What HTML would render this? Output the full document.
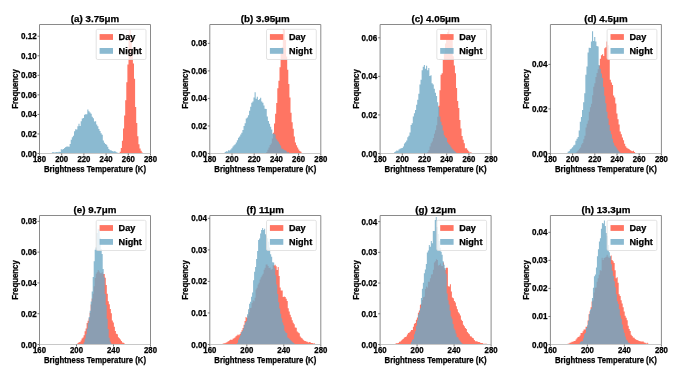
<!DOCTYPE html><html><head><meta charset="utf-8"><style>html,body{margin:0;padding:0;background:#fff;width:685px;height:386px;overflow:hidden}svg{display:block;will-change:transform}</style></head><body><svg width="685" height="386" viewBox="0 0 685 386" font-family="Liberation Sans" font-weight="bold" fill="#000">
<rect width="685" height="386" fill="#fff"/>
<path d="M119.70,153.50 L119.70,151.85 L120.80,151.85 L120.80,148.12 L121.90,148.12 L121.90,140.84 L123.00,140.84 L123.00,128.61 L124.10,128.61 L124.10,115.39 L125.20,115.39 L125.20,100.34 L126.30,100.34 L126.30,82.20 L127.40,82.20 L127.40,64.55 L128.50,64.55 L128.50,34.28 L129.60,34.28 L129.60,30.05 L130.70,30.05 L130.70,35.79 L131.80,35.79 L131.80,48.30 L132.90,48.30 L132.90,63.52 L134.00,63.52 L134.00,78.63 L135.10,78.63 L135.10,107.03 L136.20,107.03 L136.20,122.94 L137.30,122.94 L137.30,136.17 L138.40,136.17 L138.40,144.31 L139.50,144.31 L139.50,148.47 L140.60,148.47 L140.60,150.86 L141.70,150.86 L141.70,152.58 L142.80,152.58 L142.80,153.50 Z" fill="#FF7563"/>
<path d="M51.90,153.50 L51.90,152.30 L53.01,152.30 L53.01,152.15 L54.11,152.15 L54.11,152.39 L55.22,152.39 L55.22,152.15 L56.33,152.15 L56.33,152.11 L57.43,152.11 L57.43,152.32 L58.54,152.32 L58.54,151.75 L59.65,151.75 L59.65,151.99 L60.75,151.99 L60.75,149.13 L61.86,149.13 L61.86,149.49 L62.97,149.49 L62.97,149.12 L64.07,149.12 L64.07,148.01 L65.18,148.01 L65.18,147.12 L66.29,147.12 L66.29,146.58 L67.39,146.58 L67.39,146.62 L68.50,146.62 L68.50,146.83 L69.60,146.83 L69.60,144.04 L70.71,144.04 L70.71,139.66 L71.82,139.66 L71.82,137.27 L72.92,137.27 L72.92,135.68 L74.03,135.68 L74.03,131.22 L75.14,131.22 L75.14,129.26 L76.24,129.26 L76.24,129.43 L77.35,129.43 L77.35,126.22 L78.46,126.22 L78.46,123.64 L79.56,123.64 L79.56,125.99 L80.67,125.99 L80.67,121.30 L81.78,121.30 L81.78,118.62 L82.88,118.62 L82.88,117.92 L83.99,117.92 L83.99,114.87 L85.10,114.87 L85.10,114.27 L86.20,114.27 L86.20,114.35 L87.31,114.35 L87.31,109.39 L88.42,109.39 L88.42,111.17 L89.52,111.17 L89.52,112.60 L90.63,112.60 L90.63,113.87 L91.74,113.87 L91.74,116.67 L92.84,116.67 L92.84,118.35 L93.95,118.35 L93.95,121.51 L95.06,121.51 L95.06,121.16 L96.16,121.16 L96.16,124.39 L97.27,124.39 L97.27,126.14 L98.38,126.14 L98.38,128.99 L99.48,128.99 L99.48,131.11 L100.59,131.11 L100.59,133.25 L101.70,133.25 L101.70,134.72 L102.80,134.72 L102.80,140.39 L103.91,140.39 L103.91,142.64 L105.01,142.64 L105.01,144.06 L106.12,144.06 L106.12,144.78 L107.23,144.78 L107.23,146.68 L108.33,146.68 L108.33,149.06 L109.44,149.06 L109.44,150.33 L110.55,150.33 L110.55,150.21 L111.65,150.21 L111.65,150.95 L112.76,150.95 L112.76,151.42 L113.87,151.42 L113.87,151.16 L114.97,151.16 L114.97,151.56 L116.08,151.56 L116.08,152.28 L117.19,152.28 L117.19,152.75 L118.29,152.75 L118.29,153.22 L119.40,153.22 L119.40,153.50 Z" fill="rgba(110,169,197,0.8)"/>
<rect x="96.20" y="29.30" width="49.8" height="30.2" rx="1.5" fill="rgba(255,255,255,0.8)" stroke="#dcdcdc" stroke-width="0.8"/>
<rect x="99.60" y="34.10" width="13.4" height="5.8" fill="#FF7563"/>
<rect x="99.60" y="48.00" width="13.4" height="5.8" fill="rgba(110,169,197,0.8)"/>
<text x="118.60" y="39.50" font-size="8.6" text-anchor="start" textLength="16.73" lengthAdjust="spacingAndGlyphs" stroke="#000" stroke-width="0.25">Day</text>
<text x="118.60" y="53.60" font-size="8.6" text-anchor="start" textLength="23.30" lengthAdjust="spacingAndGlyphs" stroke="#000" stroke-width="0.25">Night</text>
<path d="M39.5,153.5 L39.5,24.5 L150.5,24.5 L150.5,153.5" fill="none" stroke="#8a8a8a" stroke-width="1"/>
<path d="M39.5,153.5 L150.5,153.5" fill="none" stroke="#c8c8c8" stroke-width="1"/>
<path d="M39.50,153.5 L39.50,155.5" stroke="#555" stroke-width="0.8"/>
<text x="39.50" y="161.80" font-size="8.2" text-anchor="middle" textLength="13.00" lengthAdjust="spacingAndGlyphs" stroke="#000" stroke-width="0.25">180</text>
<path d="M61.70,153.5 L61.70,155.5" stroke="#555" stroke-width="0.8"/>
<text x="61.70" y="161.80" font-size="8.2" text-anchor="middle" textLength="13.00" lengthAdjust="spacingAndGlyphs" stroke="#000" stroke-width="0.25">200</text>
<path d="M83.90,153.5 L83.90,155.5" stroke="#555" stroke-width="0.8"/>
<text x="83.90" y="161.80" font-size="8.2" text-anchor="middle" textLength="13.00" lengthAdjust="spacingAndGlyphs" stroke="#000" stroke-width="0.25">220</text>
<path d="M106.10,153.5 L106.10,155.5" stroke="#555" stroke-width="0.8"/>
<text x="106.10" y="161.80" font-size="8.2" text-anchor="middle" textLength="13.00" lengthAdjust="spacingAndGlyphs" stroke="#000" stroke-width="0.25">240</text>
<path d="M128.30,153.5 L128.30,155.5" stroke="#555" stroke-width="0.8"/>
<text x="128.30" y="161.80" font-size="8.2" text-anchor="middle" textLength="13.00" lengthAdjust="spacingAndGlyphs" stroke="#000" stroke-width="0.25">260</text>
<path d="M150.50,153.5 L150.50,155.5" stroke="#555" stroke-width="0.8"/>
<text x="150.50" y="161.80" font-size="8.2" text-anchor="middle" textLength="13.00" lengthAdjust="spacingAndGlyphs" stroke="#000" stroke-width="0.25">280</text>
<path d="M37.5,153.50 L39.5,153.50" stroke="#555" stroke-width="0.8"/>
<text x="36.70" y="156.50" font-size="8.2" text-anchor="end" textLength="15.70" lengthAdjust="spacingAndGlyphs" stroke="#000" stroke-width="0.25">0.00</text>
<path d="M37.5,133.95 L39.5,133.95" stroke="#555" stroke-width="0.8"/>
<text x="36.70" y="136.95" font-size="8.2" text-anchor="end" textLength="15.70" lengthAdjust="spacingAndGlyphs" stroke="#000" stroke-width="0.25">0.02</text>
<path d="M37.5,114.41 L39.5,114.41" stroke="#555" stroke-width="0.8"/>
<text x="36.70" y="117.41" font-size="8.2" text-anchor="end" textLength="15.70" lengthAdjust="spacingAndGlyphs" stroke="#000" stroke-width="0.25">0.04</text>
<path d="M37.5,94.86 L39.5,94.86" stroke="#555" stroke-width="0.8"/>
<text x="36.70" y="97.86" font-size="8.2" text-anchor="end" textLength="15.70" lengthAdjust="spacingAndGlyphs" stroke="#000" stroke-width="0.25">0.06</text>
<path d="M37.5,75.32 L39.5,75.32" stroke="#555" stroke-width="0.8"/>
<text x="36.70" y="78.32" font-size="8.2" text-anchor="end" textLength="15.70" lengthAdjust="spacingAndGlyphs" stroke="#000" stroke-width="0.25">0.08</text>
<path d="M37.5,55.77 L39.5,55.77" stroke="#555" stroke-width="0.8"/>
<text x="36.70" y="58.77" font-size="8.2" text-anchor="end" textLength="15.70" lengthAdjust="spacingAndGlyphs" stroke="#000" stroke-width="0.25">0.10</text>
<path d="M37.5,36.23 L39.5,36.23" stroke="#555" stroke-width="0.8"/>
<text x="36.70" y="39.23" font-size="8.2" text-anchor="end" textLength="15.70" lengthAdjust="spacingAndGlyphs" stroke="#000" stroke-width="0.25">0.12</text>
<text x="95.00" y="171.60" font-size="8.4" text-anchor="middle" textLength="102.00" lengthAdjust="spacingAndGlyphs" stroke="#000" stroke-width="0.25">Brightness Temperature (K)</text>
<text x="0.00" y="0.00" font-size="8.4" text-anchor="middle" textLength="39.50" lengthAdjust="spacingAndGlyphs" stroke="#000" stroke-width="0.25" transform="translate(18.10,89.00) rotate(-90)">Frequency</text>
<text x="95.00" y="21.50" font-size="9.2" text-anchor="middle" textLength="48.40" lengthAdjust="spacingAndGlyphs" stroke="#000" stroke-width="0.25">(a) 3.75μm</text>
<path d="M266.30,153.50 L266.30,152.01 L267.40,152.01 L267.40,149.84 L268.50,149.84 L268.50,147.53 L269.60,147.53 L269.60,145.08 L270.70,145.08 L270.70,143.46 L271.80,143.46 L271.80,138.49 L272.90,138.49 L272.90,132.83 L274.00,132.83 L274.00,123.48 L275.10,123.48 L275.10,113.85 L276.20,113.85 L276.20,103.11 L277.30,103.11 L277.30,88.18 L278.40,88.18 L278.40,80.78 L279.50,80.78 L279.50,67.13 L280.60,67.13 L280.60,53.70 L281.70,53.70 L281.70,46.89 L282.80,46.89 L282.80,29.04 L283.90,29.04 L283.90,29.78 L285.00,29.78 L285.00,40.00 L286.10,40.00 L286.10,56.40 L287.20,56.40 L287.20,69.71 L288.30,69.71 L288.30,83.99 L289.40,83.99 L289.40,97.54 L290.50,97.54 L290.50,112.72 L291.60,112.72 L291.60,122.34 L292.70,122.34 L292.70,128.79 L293.80,128.79 L293.80,136.38 L294.90,136.38 L294.90,142.46 L296.00,142.46 L296.00,145.16 L297.10,145.16 L297.10,147.52 L298.20,147.52 L298.20,149.56 L299.30,149.56 L299.30,151.05 L300.40,151.05 L300.40,151.79 L301.50,151.79 L301.50,152.94 L302.60,152.94 L302.60,153.50 Z" fill="#FF7563"/>
<path d="M224.70,153.50 L224.70,151.99 L225.81,151.99 L225.81,151.15 L226.91,151.15 L226.91,151.49 L228.02,151.49 L228.02,150.30 L229.13,150.30 L229.13,150.46 L230.23,150.46 L230.23,149.57 L231.34,149.57 L231.34,148.22 L232.45,148.22 L232.45,146.59 L233.55,146.59 L233.55,145.34 L234.66,145.34 L234.66,144.26 L235.77,144.26 L235.77,142.46 L236.87,142.46 L236.87,140.23 L237.98,140.23 L237.98,137.68 L239.09,137.68 L239.09,136.52 L240.19,136.52 L240.19,134.53 L241.30,134.53 L241.30,132.65 L242.41,132.65 L242.41,129.91 L243.52,129.91 L243.52,125.93 L244.62,125.93 L244.62,123.15 L245.73,123.15 L245.73,118.53 L246.84,118.53 L246.84,117.60 L247.94,117.60 L247.94,115.23 L249.05,115.23 L249.05,110.70 L250.16,110.70 L250.16,106.79 L251.26,106.79 L251.26,102.63 L252.37,102.63 L252.37,101.55 L253.48,101.55 L253.48,97.46 L254.58,97.46 L254.58,92.29 L255.69,92.29 L255.69,98.82 L256.80,98.82 L256.80,96.66 L257.90,96.66 L257.90,99.88 L259.01,99.88 L259.01,99.18 L260.12,99.18 L260.12,97.63 L261.22,97.63 L261.22,101.45 L262.33,101.45 L262.33,102.64 L263.44,102.64 L263.44,105.39 L264.54,105.39 L264.54,108.70 L265.65,108.70 L265.65,108.94 L266.76,108.94 L266.76,116.40 L267.86,116.40 L267.86,120.94 L268.97,120.94 L268.97,123.87 L270.08,123.87 L270.08,126.81 L271.18,126.81 L271.18,129.41 L272.29,129.41 L272.29,133.82 L273.40,133.82 L273.40,133.53 L274.51,133.53 L274.51,134.44 L275.61,134.44 L275.61,138.81 L276.72,138.81 L276.72,140.48 L277.83,140.48 L277.83,141.76 L278.93,141.76 L278.93,143.85 L280.04,143.85 L280.04,145.53 L281.15,145.53 L281.15,148.40 L282.25,148.40 L282.25,148.81 L283.36,148.81 L283.36,149.86 L284.47,149.86 L284.47,150.35 L285.57,150.35 L285.57,150.80 L286.68,150.80 L286.68,152.42 L287.79,152.42 L287.79,152.10 L288.89,152.10 L288.89,153.29 L290.00,153.29 L290.00,153.50 Z" fill="rgba(110,169,197,0.8)"/>
<rect x="266.50" y="29.30" width="49.8" height="30.2" rx="1.5" fill="rgba(255,255,255,0.8)" stroke="#dcdcdc" stroke-width="0.8"/>
<rect x="269.90" y="34.10" width="13.4" height="5.8" fill="#FF7563"/>
<rect x="269.90" y="48.00" width="13.4" height="5.8" fill="rgba(110,169,197,0.8)"/>
<text x="288.90" y="39.50" font-size="8.6" text-anchor="start" textLength="16.73" lengthAdjust="spacingAndGlyphs" stroke="#000" stroke-width="0.25">Day</text>
<text x="288.90" y="53.60" font-size="8.6" text-anchor="start" textLength="23.30" lengthAdjust="spacingAndGlyphs" stroke="#000" stroke-width="0.25">Night</text>
<path d="M209.8,153.5 L209.8,24.5 L320.8,24.5 L320.8,153.5" fill="none" stroke="#8a8a8a" stroke-width="1"/>
<path d="M209.8,153.5 L320.8,153.5" fill="none" stroke="#c8c8c8" stroke-width="1"/>
<path d="M209.80,153.5 L209.80,155.5" stroke="#555" stroke-width="0.8"/>
<text x="209.80" y="161.80" font-size="8.2" text-anchor="middle" textLength="13.00" lengthAdjust="spacingAndGlyphs" stroke="#000" stroke-width="0.25">180</text>
<path d="M232.00,153.5 L232.00,155.5" stroke="#555" stroke-width="0.8"/>
<text x="232.00" y="161.80" font-size="8.2" text-anchor="middle" textLength="13.00" lengthAdjust="spacingAndGlyphs" stroke="#000" stroke-width="0.25">200</text>
<path d="M254.20,153.5 L254.20,155.5" stroke="#555" stroke-width="0.8"/>
<text x="254.20" y="161.80" font-size="8.2" text-anchor="middle" textLength="13.00" lengthAdjust="spacingAndGlyphs" stroke="#000" stroke-width="0.25">220</text>
<path d="M276.40,153.5 L276.40,155.5" stroke="#555" stroke-width="0.8"/>
<text x="276.40" y="161.80" font-size="8.2" text-anchor="middle" textLength="13.00" lengthAdjust="spacingAndGlyphs" stroke="#000" stroke-width="0.25">240</text>
<path d="M298.60,153.5 L298.60,155.5" stroke="#555" stroke-width="0.8"/>
<text x="298.60" y="161.80" font-size="8.2" text-anchor="middle" textLength="13.00" lengthAdjust="spacingAndGlyphs" stroke="#000" stroke-width="0.25">260</text>
<path d="M320.80,153.5 L320.80,155.5" stroke="#555" stroke-width="0.8"/>
<text x="320.80" y="161.80" font-size="8.2" text-anchor="middle" textLength="13.00" lengthAdjust="spacingAndGlyphs" stroke="#000" stroke-width="0.25">280</text>
<path d="M207.8,153.50 L209.8,153.50" stroke="#555" stroke-width="0.8"/>
<text x="207.00" y="156.50" font-size="8.2" text-anchor="end" textLength="15.70" lengthAdjust="spacingAndGlyphs" stroke="#000" stroke-width="0.25">0.00</text>
<path d="M207.8,125.97 L209.8,125.97" stroke="#555" stroke-width="0.8"/>
<text x="207.00" y="128.97" font-size="8.2" text-anchor="end" textLength="15.70" lengthAdjust="spacingAndGlyphs" stroke="#000" stroke-width="0.25">0.02</text>
<path d="M207.8,98.43 L209.8,98.43" stroke="#555" stroke-width="0.8"/>
<text x="207.00" y="101.43" font-size="8.2" text-anchor="end" textLength="15.70" lengthAdjust="spacingAndGlyphs" stroke="#000" stroke-width="0.25">0.04</text>
<path d="M207.8,70.90 L209.8,70.90" stroke="#555" stroke-width="0.8"/>
<text x="207.00" y="73.90" font-size="8.2" text-anchor="end" textLength="15.70" lengthAdjust="spacingAndGlyphs" stroke="#000" stroke-width="0.25">0.06</text>
<path d="M207.8,43.36 L209.8,43.36" stroke="#555" stroke-width="0.8"/>
<text x="207.00" y="46.36" font-size="8.2" text-anchor="end" textLength="15.70" lengthAdjust="spacingAndGlyphs" stroke="#000" stroke-width="0.25">0.08</text>
<text x="265.30" y="171.60" font-size="8.4" text-anchor="middle" textLength="102.00" lengthAdjust="spacingAndGlyphs" stroke="#000" stroke-width="0.25">Brightness Temperature (K)</text>
<text x="0.00" y="0.00" font-size="8.4" text-anchor="middle" textLength="39.50" lengthAdjust="spacingAndGlyphs" stroke="#000" stroke-width="0.25" transform="translate(188.40,89.00) rotate(-90)">Frequency</text>
<text x="265.30" y="21.50" font-size="9.2" text-anchor="middle" textLength="48.94" lengthAdjust="spacingAndGlyphs" stroke="#000" stroke-width="0.25">(b) 3.95μm</text>
<path d="M427.30,153.50 L427.30,151.95 L428.40,151.95 L428.40,149.94 L429.51,149.94 L429.51,146.46 L430.61,146.46 L430.61,143.19 L431.72,143.19 L431.72,141.42 L432.82,141.42 L432.82,137.89 L433.93,137.89 L433.93,133.66 L435.03,133.66 L435.03,130.27 L436.14,130.27 L436.14,125.21 L437.24,125.21 L437.24,116.66 L438.35,116.66 L438.35,105.69 L439.45,105.69 L439.45,90.29 L440.56,90.29 L440.56,74.69 L441.66,74.69 L441.66,73.21 L442.77,73.21 L442.77,60.09 L443.87,60.09 L443.87,53.19 L444.98,53.19 L444.98,43.50 L446.08,43.50 L446.08,35.70 L447.19,35.70 L447.19,31.89 L448.29,31.89 L448.29,29.39 L449.40,29.39 L449.40,34.18 L450.50,34.18 L450.50,34.14 L451.61,34.14 L451.61,36.37 L452.71,36.37 L452.71,56.19 L453.82,56.19 L453.82,65.52 L454.92,65.52 L454.92,73.36 L456.03,73.36 L456.03,87.92 L457.13,87.92 L457.13,101.05 L458.24,101.05 L458.24,107.97 L459.34,107.97 L459.34,119.93 L460.45,119.93 L460.45,128.56 L461.55,128.56 L461.55,136.08 L462.66,136.08 L462.66,139.77 L463.76,139.77 L463.76,143.20 L464.87,143.20 L464.87,148.16 L465.97,148.16 L465.97,148.25 L467.08,148.25 L467.08,149.75 L468.18,149.75 L468.18,151.36 L469.29,151.36 L469.29,152.52 L470.39,152.52 L470.39,152.36 L471.50,152.36 L471.50,153.22 L472.60,153.22 L472.60,153.50 Z" fill="#FF7563"/>
<path d="M392.90,153.50 L392.90,153.18 L394.01,153.18 L394.01,152.23 L395.11,152.23 L395.11,151.51 L396.22,151.51 L396.22,150.52 L397.32,150.52 L397.32,150.73 L398.43,150.73 L398.43,149.41 L399.53,149.41 L399.53,148.73 L400.64,148.73 L400.64,148.20 L401.74,148.20 L401.74,147.93 L402.85,147.93 L402.85,146.41 L403.95,146.41 L403.95,143.54 L405.06,143.54 L405.06,142.27 L406.16,142.27 L406.16,140.44 L407.27,140.44 L407.27,137.24 L408.37,137.24 L408.37,135.81 L409.48,135.81 L409.48,132.51 L410.58,132.51 L410.58,124.92 L411.69,124.92 L411.69,123.29 L412.79,123.29 L412.79,116.61 L413.90,116.61 L413.90,113.33 L415.00,113.33 L415.00,109.94 L416.11,109.94 L416.11,104.86 L417.21,104.86 L417.21,99.77 L418.32,99.77 L418.32,93.75 L419.42,93.75 L419.42,84.56 L420.53,84.56 L420.53,79.76 L421.63,79.76 L421.63,70.23 L422.74,70.23 L422.74,66.65 L423.84,66.65 L423.84,65.08 L424.95,65.08 L424.95,68.75 L426.05,68.75 L426.05,65.87 L427.16,65.87 L427.16,70.35 L428.26,70.35 L428.26,68.00 L429.37,68.00 L429.37,75.97 L430.47,75.97 L430.47,75.19 L431.58,75.19 L431.58,83.29 L432.68,83.29 L432.68,84.53 L433.79,84.53 L433.79,88.87 L434.89,88.87 L434.89,92.86 L436.00,92.86 L436.00,95.94 L437.10,95.94 L437.10,102.30 L438.21,102.30 L438.21,107.05 L439.31,107.05 L439.31,116.42 L440.42,116.42 L440.42,121.86 L441.52,121.86 L441.52,125.34 L442.63,125.34 L442.63,130.48 L443.73,130.48 L443.73,135.26 L444.84,135.26 L444.84,137.14 L445.94,137.14 L445.94,138.07 L447.05,138.07 L447.05,142.28 L448.15,142.28 L448.15,143.75 L449.26,143.75 L449.26,145.05 L450.36,145.05 L450.36,146.63 L451.47,146.63 L451.47,148.38 L452.57,148.38 L452.57,149.41 L453.68,149.41 L453.68,150.69 L454.78,150.69 L454.78,151.87 L455.89,151.87 L455.89,152.66 L456.99,152.66 L456.99,153.19 L458.10,153.19 L458.10,153.50 Z" fill="rgba(110,169,197,0.8)"/>
<rect x="436.80" y="29.30" width="49.8" height="30.2" rx="1.5" fill="rgba(255,255,255,0.8)" stroke="#dcdcdc" stroke-width="0.8"/>
<rect x="440.20" y="34.10" width="13.4" height="5.8" fill="#FF7563"/>
<rect x="440.20" y="48.00" width="13.4" height="5.8" fill="rgba(110,169,197,0.8)"/>
<text x="459.20" y="39.50" font-size="8.6" text-anchor="start" textLength="16.73" lengthAdjust="spacingAndGlyphs" stroke="#000" stroke-width="0.25">Day</text>
<text x="459.20" y="53.60" font-size="8.6" text-anchor="start" textLength="23.30" lengthAdjust="spacingAndGlyphs" stroke="#000" stroke-width="0.25">Night</text>
<path d="M380.1,153.5 L380.1,24.5 L491.1,24.5 L491.1,153.5" fill="none" stroke="#8a8a8a" stroke-width="1"/>
<path d="M380.1,153.5 L491.1,153.5" fill="none" stroke="#c8c8c8" stroke-width="1"/>
<path d="M380.10,153.5 L380.10,155.5" stroke="#555" stroke-width="0.8"/>
<text x="380.10" y="161.80" font-size="8.2" text-anchor="middle" textLength="13.00" lengthAdjust="spacingAndGlyphs" stroke="#000" stroke-width="0.25">180</text>
<path d="M402.30,153.5 L402.30,155.5" stroke="#555" stroke-width="0.8"/>
<text x="402.30" y="161.80" font-size="8.2" text-anchor="middle" textLength="13.00" lengthAdjust="spacingAndGlyphs" stroke="#000" stroke-width="0.25">200</text>
<path d="M424.50,153.5 L424.50,155.5" stroke="#555" stroke-width="0.8"/>
<text x="424.50" y="161.80" font-size="8.2" text-anchor="middle" textLength="13.00" lengthAdjust="spacingAndGlyphs" stroke="#000" stroke-width="0.25">220</text>
<path d="M446.70,153.5 L446.70,155.5" stroke="#555" stroke-width="0.8"/>
<text x="446.70" y="161.80" font-size="8.2" text-anchor="middle" textLength="13.00" lengthAdjust="spacingAndGlyphs" stroke="#000" stroke-width="0.25">240</text>
<path d="M468.90,153.5 L468.90,155.5" stroke="#555" stroke-width="0.8"/>
<text x="468.90" y="161.80" font-size="8.2" text-anchor="middle" textLength="13.00" lengthAdjust="spacingAndGlyphs" stroke="#000" stroke-width="0.25">260</text>
<path d="M491.10,153.5 L491.10,155.5" stroke="#555" stroke-width="0.8"/>
<text x="491.10" y="161.80" font-size="8.2" text-anchor="middle" textLength="13.00" lengthAdjust="spacingAndGlyphs" stroke="#000" stroke-width="0.25">280</text>
<path d="M378.1,153.50 L380.1,153.50" stroke="#555" stroke-width="0.8"/>
<text x="377.30" y="156.50" font-size="8.2" text-anchor="end" textLength="15.70" lengthAdjust="spacingAndGlyphs" stroke="#000" stroke-width="0.25">0.00</text>
<path d="M378.1,114.93 L380.1,114.93" stroke="#555" stroke-width="0.8"/>
<text x="377.30" y="117.93" font-size="8.2" text-anchor="end" textLength="15.70" lengthAdjust="spacingAndGlyphs" stroke="#000" stroke-width="0.25">0.02</text>
<path d="M378.1,76.37 L380.1,76.37" stroke="#555" stroke-width="0.8"/>
<text x="377.30" y="79.37" font-size="8.2" text-anchor="end" textLength="15.70" lengthAdjust="spacingAndGlyphs" stroke="#000" stroke-width="0.25">0.04</text>
<path d="M378.1,37.80 L380.1,37.80" stroke="#555" stroke-width="0.8"/>
<text x="377.30" y="40.80" font-size="8.2" text-anchor="end" textLength="15.70" lengthAdjust="spacingAndGlyphs" stroke="#000" stroke-width="0.25">0.06</text>
<text x="435.60" y="171.60" font-size="8.4" text-anchor="middle" textLength="102.00" lengthAdjust="spacingAndGlyphs" stroke="#000" stroke-width="0.25">Brightness Temperature (K)</text>
<text x="0.00" y="0.00" font-size="8.4" text-anchor="middle" textLength="39.50" lengthAdjust="spacingAndGlyphs" stroke="#000" stroke-width="0.25" transform="translate(358.70,89.00) rotate(-90)">Frequency</text>
<text x="435.60" y="21.50" font-size="9.2" text-anchor="middle" textLength="48.40" lengthAdjust="spacingAndGlyphs" stroke="#000" stroke-width="0.25">(c) 4.05μm</text>
<path d="M575.60,153.50 L575.60,152.62 L576.70,152.62 L576.70,151.50 L577.80,151.50 L577.80,150.23 L578.91,150.23 L578.91,148.79 L580.01,148.79 L580.01,147.47 L581.11,147.47 L581.11,144.51 L582.21,144.51 L582.21,143.00 L583.31,143.00 L583.31,139.17 L584.41,139.17 L584.41,135.76 L585.52,135.76 L585.52,127.54 L586.62,127.54 L586.62,123.78 L587.72,123.78 L587.72,120.55 L588.82,120.55 L588.82,111.81 L589.92,111.81 L589.92,107.25 L591.03,107.25 L591.03,103.80 L592.13,103.80 L592.13,95.34 L593.23,95.34 L593.23,86.86 L594.33,86.86 L594.33,83.36 L595.43,83.36 L595.43,77.10 L596.53,77.10 L596.53,73.12 L597.64,73.12 L597.64,69.24 L598.74,69.24 L598.74,65.86 L599.84,65.86 L599.84,58.63 L600.94,58.63 L600.94,55.20 L602.04,55.20 L602.04,54.27 L603.15,54.27 L603.15,55.93 L604.25,55.93 L604.25,48.18 L605.35,48.18 L605.35,47.34 L606.45,47.34 L606.45,41.50 L607.55,41.50 L607.55,45.26 L608.65,45.26 L608.65,59.39 L609.76,59.39 L609.76,79.63 L610.86,79.63 L610.86,82.44 L611.96,82.44 L611.96,85.02 L613.06,85.02 L613.06,95.47 L614.16,95.47 L614.16,97.39 L615.27,97.39 L615.27,103.59 L616.37,103.59 L616.37,113.46 L617.47,113.46 L617.47,119.27 L618.57,119.27 L618.57,124.61 L619.67,124.61 L619.67,131.41 L620.77,131.41 L620.77,134.16 L621.88,134.16 L621.88,137.39 L622.98,137.39 L622.98,140.15 L624.08,140.15 L624.08,143.74 L625.18,143.74 L625.18,146.24 L626.28,146.24 L626.28,147.74 L627.39,147.74 L627.39,148.50 L628.49,148.50 L628.49,149.06 L629.59,149.06 L629.59,149.92 L630.69,149.92 L630.69,150.79 L631.79,150.79 L631.79,151.30 L632.89,151.30 L632.89,150.83 L634.00,150.83 L634.00,152.09 L635.10,152.09 L635.10,153.03 L636.20,153.03 L636.20,153.50 Z" fill="#FF7563"/>
<path d="M566.50,153.50 L566.50,153.37 L567.61,153.37 L567.61,151.87 L568.72,151.87 L568.72,150.89 L569.82,150.89 L569.82,149.32 L570.93,149.32 L570.93,148.38 L572.04,148.38 L572.04,147.22 L573.15,147.22 L573.15,145.50 L574.26,145.50 L574.26,144.84 L575.37,144.84 L575.37,140.72 L576.47,140.72 L576.47,138.81 L577.58,138.81 L577.58,137.04 L578.69,137.04 L578.69,130.59 L579.80,130.59 L579.80,121.63 L580.91,121.63 L580.91,116.88 L582.01,116.88 L582.01,109.88 L583.12,109.88 L583.12,102.21 L584.23,102.21 L584.23,93.20 L585.34,93.20 L585.34,74.75 L586.45,74.75 L586.45,66.40 L587.56,66.40 L587.56,52.57 L588.66,52.57 L588.66,47.74 L589.77,47.74 L589.77,48.07 L590.88,48.07 L590.88,41.55 L591.99,41.55 L591.99,31.30 L593.10,31.30 L593.10,41.10 L594.20,41.10 L594.20,37.04 L595.31,37.04 L595.31,41.46 L596.42,41.46 L596.42,46.11 L597.53,46.11 L597.53,46.54 L598.64,46.54 L598.64,64.91 L599.74,64.91 L599.74,68.86 L600.85,68.86 L600.85,73.44 L601.96,73.44 L601.96,78.10 L603.07,78.10 L603.07,86.91 L604.18,86.91 L604.18,95.86 L605.29,95.86 L605.29,103.21 L606.39,103.21 L606.39,111.83 L607.50,111.83 L607.50,118.43 L608.61,118.43 L608.61,125.07 L609.72,125.07 L609.72,130.76 L610.83,130.76 L610.83,134.31 L611.93,134.31 L611.93,138.75 L613.04,138.75 L613.04,142.71 L614.15,142.71 L614.15,145.57 L615.26,145.57 L615.26,146.87 L616.37,146.87 L616.37,148.58 L617.48,148.58 L617.48,150.14 L618.58,150.14 L618.58,151.53 L619.69,151.53 L619.69,152.81 L620.80,152.81 L620.80,153.50 Z" fill="rgba(110,169,197,0.8)"/>
<rect x="607.10" y="29.30" width="49.8" height="30.2" rx="1.5" fill="rgba(255,255,255,0.8)" stroke="#dcdcdc" stroke-width="0.8"/>
<rect x="610.50" y="34.10" width="13.4" height="5.8" fill="#FF7563"/>
<rect x="610.50" y="48.00" width="13.4" height="5.8" fill="rgba(110,169,197,0.8)"/>
<text x="629.50" y="39.50" font-size="8.6" text-anchor="start" textLength="16.73" lengthAdjust="spacingAndGlyphs" stroke="#000" stroke-width="0.25">Day</text>
<text x="629.50" y="53.60" font-size="8.6" text-anchor="start" textLength="23.30" lengthAdjust="spacingAndGlyphs" stroke="#000" stroke-width="0.25">Night</text>
<path d="M550.4,153.5 L550.4,24.5 L661.4,24.5 L661.4,153.5" fill="none" stroke="#8a8a8a" stroke-width="1"/>
<path d="M550.4,153.5 L661.4,153.5" fill="none" stroke="#c8c8c8" stroke-width="1"/>
<path d="M550.40,153.5 L550.40,155.5" stroke="#555" stroke-width="0.8"/>
<text x="550.40" y="161.80" font-size="8.2" text-anchor="middle" textLength="13.00" lengthAdjust="spacingAndGlyphs" stroke="#000" stroke-width="0.25">180</text>
<path d="M572.60,153.5 L572.60,155.5" stroke="#555" stroke-width="0.8"/>
<text x="572.60" y="161.80" font-size="8.2" text-anchor="middle" textLength="13.00" lengthAdjust="spacingAndGlyphs" stroke="#000" stroke-width="0.25">200</text>
<path d="M594.80,153.5 L594.80,155.5" stroke="#555" stroke-width="0.8"/>
<text x="594.80" y="161.80" font-size="8.2" text-anchor="middle" textLength="13.00" lengthAdjust="spacingAndGlyphs" stroke="#000" stroke-width="0.25">220</text>
<path d="M617.00,153.5 L617.00,155.5" stroke="#555" stroke-width="0.8"/>
<text x="617.00" y="161.80" font-size="8.2" text-anchor="middle" textLength="13.00" lengthAdjust="spacingAndGlyphs" stroke="#000" stroke-width="0.25">240</text>
<path d="M639.20,153.5 L639.20,155.5" stroke="#555" stroke-width="0.8"/>
<text x="639.20" y="161.80" font-size="8.2" text-anchor="middle" textLength="13.00" lengthAdjust="spacingAndGlyphs" stroke="#000" stroke-width="0.25">260</text>
<path d="M661.40,153.5 L661.40,155.5" stroke="#555" stroke-width="0.8"/>
<text x="661.40" y="161.80" font-size="8.2" text-anchor="middle" textLength="13.00" lengthAdjust="spacingAndGlyphs" stroke="#000" stroke-width="0.25">280</text>
<path d="M548.4,153.50 L550.4,153.50" stroke="#555" stroke-width="0.8"/>
<text x="547.60" y="156.50" font-size="8.2" text-anchor="end" textLength="15.70" lengthAdjust="spacingAndGlyphs" stroke="#000" stroke-width="0.25">0.00</text>
<path d="M548.4,108.94 L550.4,108.94" stroke="#555" stroke-width="0.8"/>
<text x="547.60" y="111.94" font-size="8.2" text-anchor="end" textLength="15.70" lengthAdjust="spacingAndGlyphs" stroke="#000" stroke-width="0.25">0.02</text>
<path d="M548.4,64.38 L550.4,64.38" stroke="#555" stroke-width="0.8"/>
<text x="547.60" y="67.38" font-size="8.2" text-anchor="end" textLength="15.70" lengthAdjust="spacingAndGlyphs" stroke="#000" stroke-width="0.25">0.04</text>
<text x="605.90" y="171.60" font-size="8.4" text-anchor="middle" textLength="102.00" lengthAdjust="spacingAndGlyphs" stroke="#000" stroke-width="0.25">Brightness Temperature (K)</text>
<text x="0.00" y="0.00" font-size="8.4" text-anchor="middle" textLength="39.50" lengthAdjust="spacingAndGlyphs" stroke="#000" stroke-width="0.25" transform="translate(529.00,89.00) rotate(-90)">Frequency</text>
<text x="605.90" y="21.50" font-size="9.2" text-anchor="middle" textLength="43.49" lengthAdjust="spacingAndGlyphs" stroke="#000" stroke-width="0.25">(d) 4.5μm</text>
<path d="M75.50,344.50 L75.50,344.24 L76.51,344.24 L76.51,343.92 L77.52,343.92 L77.52,343.06 L78.53,343.06 L78.53,342.33 L79.54,342.33 L79.54,341.89 L80.55,341.89 L80.55,340.48 L81.56,340.48 L81.56,338.57 L82.57,338.57 L82.57,337.39 L83.58,337.39 L83.58,335.35 L84.59,335.35 L84.59,331.35 L85.60,331.35 L85.60,328.58 L86.61,328.58 L86.61,323.02 L87.62,323.02 L87.62,320.66 L88.63,320.66 L88.63,318.31 L89.64,318.31 L89.64,312.71 L90.65,312.71 L90.65,304.43 L91.66,304.43 L91.66,298.51 L92.67,298.51 L92.67,293.76 L93.68,293.76 L93.68,286.28 L94.69,286.28 L94.69,277.93 L95.70,277.93 L95.70,273.83 L96.71,273.83 L96.71,272.30 L97.72,272.30 L97.72,270.08 L98.73,270.08 L98.73,271.40 L99.74,271.40 L99.74,273.33 L100.75,273.33 L100.75,273.19 L101.76,273.19 L101.76,272.19 L102.77,272.19 L102.77,273.93 L103.78,273.93 L103.78,274.02 L104.79,274.02 L104.79,277.68 L105.80,277.68 L105.80,285.06 L106.81,285.06 L106.81,293.73 L107.82,293.73 L107.82,301.15 L108.83,301.15 L108.83,304.25 L109.84,304.25 L109.84,309.01 L110.85,309.01 L110.85,313.15 L111.86,313.15 L111.86,320.54 L112.87,320.54 L112.87,322.46 L113.88,322.46 L113.88,326.74 L114.89,326.74 L114.89,330.91 L115.90,330.91 L115.90,333.68 L116.91,333.68 L116.91,334.22 L117.92,334.22 L117.92,337.35 L118.93,337.35 L118.93,338.14 L119.94,338.14 L119.94,339.40 L120.95,339.40 L120.95,341.04 L121.96,341.04 L121.96,342.61 L122.97,342.61 L122.97,342.87 L123.98,342.87 L123.98,343.48 L124.99,343.48 L124.99,344.06 L126.00,344.06 L126.00,344.50 Z" fill="#FF7563"/>
<path d="M83.70,344.50 L83.70,342.34 L84.70,342.34 L84.70,338.65 L85.70,338.65 L85.70,334.25 L86.70,334.25 L86.70,328.73 L87.70,328.73 L87.70,322.91 L88.70,322.91 L88.70,316.99 L89.70,316.99 L89.70,310.86 L90.70,310.86 L90.70,301.55 L91.70,301.55 L91.70,291.47 L92.70,291.47 L92.70,277.02 L93.70,277.02 L93.70,261.25 L94.70,261.25 L94.70,249.81 L95.70,249.81 L95.70,247.49 L96.70,247.49 L96.70,232.99 L97.70,232.99 L97.70,229.18 L98.70,229.18 L98.70,228.78 L99.70,228.78 L99.70,237.84 L100.70,237.84 L100.70,248.91 L101.70,248.91 L101.70,253.94 L102.70,253.94 L102.70,268.88 L103.70,268.88 L103.70,277.56 L104.70,277.56 L104.70,293.92 L105.70,293.92 L105.70,305.12 L106.70,305.12 L106.70,318.83 L107.70,318.83 L107.70,329.11 L108.70,329.11 L108.70,337.85 L109.70,337.85 L109.70,341.44 L110.70,341.44 L110.70,343.39 L111.70,343.39 L111.70,344.50 Z" fill="rgba(110,169,197,0.8)"/>
<rect x="96.20" y="220.30" width="49.8" height="30.2" rx="1.5" fill="rgba(255,255,255,0.8)" stroke="#dcdcdc" stroke-width="0.8"/>
<rect x="99.60" y="225.10" width="13.4" height="5.8" fill="#FF7563"/>
<rect x="99.60" y="239.00" width="13.4" height="5.8" fill="rgba(110,169,197,0.8)"/>
<text x="118.60" y="230.50" font-size="8.6" text-anchor="start" textLength="16.73" lengthAdjust="spacingAndGlyphs" stroke="#000" stroke-width="0.25">Day</text>
<text x="118.60" y="244.60" font-size="8.6" text-anchor="start" textLength="23.30" lengthAdjust="spacingAndGlyphs" stroke="#000" stroke-width="0.25">Night</text>
<path d="M39.5,344.5 L39.5,215.5 L150.5,215.5 L150.5,344.5" fill="none" stroke="#8a8a8a" stroke-width="1"/>
<path d="M39.5,344.5 L150.5,344.5" fill="none" stroke="#c8c8c8" stroke-width="1"/>
<path d="M39.50,344.5 L39.50,346.5" stroke="#555" stroke-width="0.8"/>
<text x="39.50" y="352.80" font-size="8.2" text-anchor="middle" textLength="13.00" lengthAdjust="spacingAndGlyphs" stroke="#000" stroke-width="0.25">160</text>
<path d="M76.50,344.5 L76.50,346.5" stroke="#555" stroke-width="0.8"/>
<text x="76.50" y="352.80" font-size="8.2" text-anchor="middle" textLength="13.00" lengthAdjust="spacingAndGlyphs" stroke="#000" stroke-width="0.25">200</text>
<path d="M113.50,344.5 L113.50,346.5" stroke="#555" stroke-width="0.8"/>
<text x="113.50" y="352.80" font-size="8.2" text-anchor="middle" textLength="13.00" lengthAdjust="spacingAndGlyphs" stroke="#000" stroke-width="0.25">240</text>
<path d="M150.50,344.5 L150.50,346.5" stroke="#555" stroke-width="0.8"/>
<text x="150.50" y="352.80" font-size="8.2" text-anchor="middle" textLength="13.00" lengthAdjust="spacingAndGlyphs" stroke="#000" stroke-width="0.25">280</text>
<path d="M37.5,344.50 L39.5,344.50" stroke="#555" stroke-width="0.8"/>
<text x="36.70" y="347.50" font-size="8.2" text-anchor="end" textLength="15.70" lengthAdjust="spacingAndGlyphs" stroke="#000" stroke-width="0.25">0.00</text>
<path d="M37.5,313.71 L39.5,313.71" stroke="#555" stroke-width="0.8"/>
<text x="36.70" y="316.71" font-size="8.2" text-anchor="end" textLength="15.70" lengthAdjust="spacingAndGlyphs" stroke="#000" stroke-width="0.25">0.02</text>
<path d="M37.5,282.92 L39.5,282.92" stroke="#555" stroke-width="0.8"/>
<text x="36.70" y="285.92" font-size="8.2" text-anchor="end" textLength="15.70" lengthAdjust="spacingAndGlyphs" stroke="#000" stroke-width="0.25">0.04</text>
<path d="M37.5,252.14 L39.5,252.14" stroke="#555" stroke-width="0.8"/>
<text x="36.70" y="255.14" font-size="8.2" text-anchor="end" textLength="15.70" lengthAdjust="spacingAndGlyphs" stroke="#000" stroke-width="0.25">0.06</text>
<path d="M37.5,221.35 L39.5,221.35" stroke="#555" stroke-width="0.8"/>
<text x="36.70" y="224.35" font-size="8.2" text-anchor="end" textLength="15.70" lengthAdjust="spacingAndGlyphs" stroke="#000" stroke-width="0.25">0.08</text>
<text x="95.00" y="362.60" font-size="8.4" text-anchor="middle" textLength="102.00" lengthAdjust="spacingAndGlyphs" stroke="#000" stroke-width="0.25">Brightness Temperature (K)</text>
<text x="0.00" y="0.00" font-size="8.4" text-anchor="middle" textLength="39.50" lengthAdjust="spacingAndGlyphs" stroke="#000" stroke-width="0.25" transform="translate(18.10,280.00) rotate(-90)">Frequency</text>
<text x="95.00" y="212.50" font-size="9.2" text-anchor="middle" textLength="42.96" lengthAdjust="spacingAndGlyphs" stroke="#000" stroke-width="0.25">(e) 9.7μm</text>
<path d="M217.40,344.50 L217.40,344.50 L218.40,344.50 L218.40,344.21 L219.41,344.21 L219.41,343.91 L220.41,343.91 L220.41,344.10 L221.42,344.10 L221.42,343.95 L222.42,343.95 L222.42,343.63 L223.43,343.63 L223.43,343.35 L224.43,343.35 L224.43,343.35 L225.44,343.35 L225.44,342.80 L226.44,342.80 L226.44,342.35 L227.45,342.35 L227.45,341.60 L228.45,341.60 L228.45,340.94 L229.46,340.94 L229.46,339.99 L230.46,339.99 L230.46,339.47 L231.47,339.47 L231.47,339.94 L232.47,339.94 L232.47,338.80 L233.48,338.80 L233.48,338.32 L234.48,338.32 L234.48,337.57 L235.49,337.57 L235.49,336.24 L236.49,336.24 L236.49,335.47 L237.50,335.47 L237.50,334.49 L238.50,334.49 L238.50,335.15 L239.51,335.15 L239.51,334.02 L240.51,334.02 L240.51,332.18 L241.52,332.18 L241.52,330.25 L242.52,330.25 L242.52,328.08 L243.53,328.08 L243.53,324.86 L244.53,324.86 L244.53,321.04 L245.54,321.04 L245.54,316.96 L246.54,316.96 L246.54,318.05 L247.55,318.05 L247.55,315.69 L248.55,315.69 L248.55,312.35 L249.56,312.35 L249.56,308.11 L250.56,308.11 L250.56,307.70 L251.57,307.70 L251.57,302.97 L252.57,302.97 L252.57,300.33 L253.58,300.33 L253.58,301.18 L254.58,301.18 L254.58,297.74 L255.59,297.74 L255.59,289.43 L256.59,289.43 L256.59,287.69 L257.60,287.69 L257.60,284.59 L258.60,284.59 L258.60,282.68 L259.61,282.68 L259.61,279.44 L260.61,279.44 L260.61,277.17 L261.62,277.17 L261.62,275.40 L262.62,275.40 L262.62,273.77 L263.63,273.77 L263.63,269.81 L264.63,269.81 L264.63,267.76 L265.64,267.76 L265.64,264.59 L266.64,264.59 L266.64,264.62 L267.65,264.62 L267.65,265.94 L268.65,265.94 L268.65,268.06 L269.66,268.06 L269.66,267.44 L270.66,267.44 L270.66,269.87 L271.67,269.87 L271.67,269.03 L272.67,269.03 L272.67,265.16 L273.68,265.16 L273.68,265.58 L274.68,265.58 L274.68,264.74 L275.69,264.74 L275.69,266.36 L276.69,266.36 L276.69,269.97 L277.70,269.97 L277.70,267.08 L278.70,267.08 L278.70,276.01 L279.71,276.01 L279.71,287.51 L280.71,287.51 L280.71,290.44 L281.72,290.44 L281.72,290.47 L282.72,290.47 L282.72,296.94 L283.73,296.94 L283.73,296.44 L284.73,296.44 L284.73,297.09 L285.74,297.09 L285.74,298.67 L286.74,298.67 L286.74,301.03 L287.75,301.03 L287.75,308.31 L288.75,308.31 L288.75,311.45 L289.76,311.45 L289.76,314.78 L290.76,314.78 L290.76,317.35 L291.77,317.35 L291.77,320.14 L292.77,320.14 L292.77,322.79 L293.78,322.79 L293.78,324.20 L294.78,324.20 L294.78,327.58 L295.79,327.58 L295.79,327.74 L296.79,327.74 L296.79,331.44 L297.80,331.44 L297.80,332.48 L298.80,332.48 L298.80,333.30 L299.81,333.30 L299.81,336.47 L300.81,336.47 L300.81,337.67 L301.82,337.67 L301.82,338.48 L302.82,338.48 L302.82,339.83 L303.83,339.83 L303.83,340.78 L304.83,340.78 L304.83,340.97 L305.84,340.97 L305.84,341.44 L306.84,341.44 L306.84,341.67 L307.85,341.67 L307.85,342.39 L308.85,342.39 L308.85,341.91 L309.86,341.91 L309.86,342.23 L310.86,342.23 L310.86,342.93 L311.87,342.93 L311.87,343.10 L312.87,343.10 L312.87,343.46 L313.88,343.46 L313.88,343.30 L314.88,343.30 L314.88,343.90 L315.89,343.90 L315.89,343.89 L316.89,343.89 L316.89,344.24 L317.90,344.24 L317.90,344.44 L318.90,344.44 L318.90,344.50 Z" fill="#FF7563"/>
<path d="M237.00,344.50 L237.00,342.90 L238.01,342.90 L238.01,339.68 L239.01,339.68 L239.01,337.39 L240.02,337.39 L240.02,335.37 L241.02,335.37 L241.02,332.36 L242.03,332.36 L242.03,330.91 L243.03,330.91 L243.03,328.59 L244.04,328.59 L244.04,324.89 L245.04,324.89 L245.04,322.39 L246.05,322.39 L246.05,321.17 L247.05,321.17 L247.05,314.31 L248.06,314.31 L248.06,309.28 L249.06,309.28 L249.06,303.65 L250.07,303.65 L250.07,301.75 L251.07,301.75 L251.07,296.73 L252.08,296.73 L252.08,292.62 L253.08,292.62 L253.08,280.20 L254.09,280.20 L254.09,271.77 L255.09,271.77 L255.09,267.10 L256.10,267.10 L256.10,258.95 L257.10,258.95 L257.10,251.07 L258.11,251.07 L258.11,240.02 L259.11,240.02 L259.11,238.51 L260.12,238.51 L260.12,233.41 L261.12,233.41 L261.12,229.88 L262.13,229.88 L262.13,228.09 L263.13,228.09 L263.13,230.00 L264.14,230.00 L264.14,228.72 L265.14,228.72 L265.14,234.16 L266.15,234.16 L266.15,235.47 L267.16,235.47 L267.16,238.18 L268.16,238.18 L268.16,241.71 L269.17,241.71 L269.17,247.45 L270.17,247.45 L270.17,254.28 L271.18,254.28 L271.18,256.82 L272.18,256.82 L272.18,262.36 L273.19,262.36 L273.19,262.53 L274.19,262.53 L274.19,268.19 L275.20,268.19 L275.20,275.25 L276.20,275.25 L276.20,284.47 L277.21,284.47 L277.21,293.89 L278.21,293.89 L278.21,302.15 L279.22,302.15 L279.22,308.38 L280.22,308.38 L280.22,313.80 L281.23,313.80 L281.23,318.18 L282.23,318.18 L282.23,322.51 L283.24,322.51 L283.24,325.31 L284.24,325.31 L284.24,330.65 L285.25,330.65 L285.25,332.62 L286.25,332.62 L286.25,333.02 L287.26,333.02 L287.26,337.50 L288.26,337.50 L288.26,338.37 L289.27,338.37 L289.27,339.19 L290.27,339.19 L290.27,340.21 L291.28,340.21 L291.28,341.14 L292.28,341.14 L292.28,342.34 L293.29,342.34 L293.29,343.07 L294.29,343.07 L294.29,344.05 L295.30,344.05 L295.30,344.50 Z" fill="rgba(110,169,197,0.8)"/>
<rect x="266.50" y="220.30" width="49.8" height="30.2" rx="1.5" fill="rgba(255,255,255,0.8)" stroke="#dcdcdc" stroke-width="0.8"/>
<rect x="269.90" y="225.10" width="13.4" height="5.8" fill="#FF7563"/>
<rect x="269.90" y="239.00" width="13.4" height="5.8" fill="rgba(110,169,197,0.8)"/>
<text x="288.90" y="230.50" font-size="8.6" text-anchor="start" textLength="16.73" lengthAdjust="spacingAndGlyphs" stroke="#000" stroke-width="0.25">Day</text>
<text x="288.90" y="244.60" font-size="8.6" text-anchor="start" textLength="23.30" lengthAdjust="spacingAndGlyphs" stroke="#000" stroke-width="0.25">Night</text>
<path d="M209.8,344.5 L209.8,215.5 L320.8,215.5 L320.8,344.5" fill="none" stroke="#8a8a8a" stroke-width="1"/>
<path d="M209.8,344.5 L320.8,344.5" fill="none" stroke="#c8c8c8" stroke-width="1"/>
<path d="M209.80,344.5 L209.80,346.5" stroke="#555" stroke-width="0.8"/>
<text x="209.80" y="352.80" font-size="8.2" text-anchor="middle" textLength="13.00" lengthAdjust="spacingAndGlyphs" stroke="#000" stroke-width="0.25">160</text>
<path d="M246.80,344.5 L246.80,346.5" stroke="#555" stroke-width="0.8"/>
<text x="246.80" y="352.80" font-size="8.2" text-anchor="middle" textLength="13.00" lengthAdjust="spacingAndGlyphs" stroke="#000" stroke-width="0.25">200</text>
<path d="M283.80,344.5 L283.80,346.5" stroke="#555" stroke-width="0.8"/>
<text x="283.80" y="352.80" font-size="8.2" text-anchor="middle" textLength="13.00" lengthAdjust="spacingAndGlyphs" stroke="#000" stroke-width="0.25">240</text>
<path d="M320.80,344.5 L320.80,346.5" stroke="#555" stroke-width="0.8"/>
<text x="320.80" y="352.80" font-size="8.2" text-anchor="middle" textLength="13.00" lengthAdjust="spacingAndGlyphs" stroke="#000" stroke-width="0.25">280</text>
<path d="M207.8,344.50 L209.8,344.50" stroke="#555" stroke-width="0.8"/>
<text x="207.00" y="347.50" font-size="8.2" text-anchor="end" textLength="15.70" lengthAdjust="spacingAndGlyphs" stroke="#000" stroke-width="0.25">0.00</text>
<path d="M207.8,312.96 L209.8,312.96" stroke="#555" stroke-width="0.8"/>
<text x="207.00" y="315.96" font-size="8.2" text-anchor="end" textLength="15.70" lengthAdjust="spacingAndGlyphs" stroke="#000" stroke-width="0.25">0.01</text>
<path d="M207.8,281.42 L209.8,281.42" stroke="#555" stroke-width="0.8"/>
<text x="207.00" y="284.42" font-size="8.2" text-anchor="end" textLength="15.70" lengthAdjust="spacingAndGlyphs" stroke="#000" stroke-width="0.25">0.02</text>
<path d="M207.8,249.88 L209.8,249.88" stroke="#555" stroke-width="0.8"/>
<text x="207.00" y="252.88" font-size="8.2" text-anchor="end" textLength="15.70" lengthAdjust="spacingAndGlyphs" stroke="#000" stroke-width="0.25">0.03</text>
<path d="M207.8,218.34 L209.8,218.34" stroke="#555" stroke-width="0.8"/>
<text x="207.00" y="221.34" font-size="8.2" text-anchor="end" textLength="15.70" lengthAdjust="spacingAndGlyphs" stroke="#000" stroke-width="0.25">0.04</text>
<text x="265.30" y="362.60" font-size="8.4" text-anchor="middle" textLength="102.00" lengthAdjust="spacingAndGlyphs" stroke="#000" stroke-width="0.25">Brightness Temperature (K)</text>
<text x="0.00" y="0.00" font-size="8.4" text-anchor="middle" textLength="39.50" lengthAdjust="spacingAndGlyphs" stroke="#000" stroke-width="0.25" transform="translate(188.40,280.00) rotate(-90)">Frequency</text>
<text x="265.30" y="212.50" font-size="9.2" text-anchor="middle" textLength="37.52" lengthAdjust="spacingAndGlyphs" stroke="#000" stroke-width="0.25">(f) 11μm</text>
<path d="M392.90,344.50 L392.90,344.27 L393.90,344.27 L393.90,344.27 L394.90,344.27 L394.90,343.83 L395.90,343.83 L395.90,343.33 L396.90,343.33 L396.90,343.25 L397.90,343.25 L397.90,342.92 L398.90,342.92 L398.90,341.77 L399.90,341.77 L399.90,341.53 L400.90,341.53 L400.90,340.38 L401.90,340.38 L401.90,339.49 L402.90,339.49 L402.90,338.69 L403.90,338.69 L403.90,337.61 L404.90,337.61 L404.90,336.95 L405.90,336.95 L405.90,336.54 L406.90,336.54 L406.90,334.47 L407.90,334.47 L407.90,332.89 L408.90,332.89 L408.90,332.43 L409.90,332.43 L409.90,331.43 L410.90,331.43 L410.90,330.09 L411.90,330.09 L411.90,329.98 L412.90,329.98 L412.90,326.77 L413.90,326.77 L413.90,323.67 L414.90,323.67 L414.90,323.02 L415.90,323.02 L415.90,319.80 L416.90,319.80 L416.90,317.55 L417.90,317.55 L417.90,312.65 L418.90,312.65 L418.90,310.38 L419.90,310.38 L419.90,304.78 L420.90,304.78 L420.90,303.87 L421.90,303.87 L421.90,300.08 L422.90,300.08 L422.90,297.13 L423.90,297.13 L423.90,296.68 L424.90,296.68 L424.90,289.09 L425.90,289.09 L425.90,286.62 L426.90,286.62 L426.90,287.43 L427.90,287.43 L427.90,281.83 L428.90,281.83 L428.90,281.64 L429.90,281.64 L429.90,278.23 L430.90,278.23 L430.90,274.50 L431.90,274.50 L431.90,274.35 L432.90,274.35 L432.90,269.63 L433.90,269.63 L433.90,262.62 L434.90,262.62 L434.90,261.22 L435.90,261.22 L435.90,259.31 L436.90,259.31 L436.90,259.94 L437.90,259.94 L437.90,265.60 L438.90,265.60 L438.90,264.90 L439.90,264.90 L439.90,263.51 L440.90,263.51 L440.90,265.74 L441.90,265.74 L441.90,266.07 L442.90,266.07 L442.90,262.55 L443.90,262.55 L443.90,268.41 L444.90,268.41 L444.90,269.68 L445.90,269.68 L445.90,267.68 L446.90,267.68 L446.90,267.64 L447.90,267.64 L447.90,286.27 L448.90,286.27 L448.90,286.51 L449.90,286.51 L449.90,284.25 L450.90,284.25 L450.90,291.39 L451.90,291.39 L451.90,297.53 L452.90,297.53 L452.90,298.26 L453.90,298.26 L453.90,300.99 L454.90,300.99 L454.90,302.61 L455.90,302.61 L455.90,306.34 L456.90,306.34 L456.90,309.24 L457.90,309.24 L457.90,312.25 L458.90,312.25 L458.90,313.39 L459.90,313.39 L459.90,315.61 L460.90,315.61 L460.90,319.77 L461.90,319.77 L461.90,320.93 L462.90,320.93 L462.90,324.75 L463.90,324.75 L463.90,326.34 L464.90,326.34 L464.90,328.05 L465.90,328.05 L465.90,328.99 L466.90,328.99 L466.90,331.90 L467.90,331.90 L467.90,333.16 L468.90,333.16 L468.90,334.28 L469.90,334.28 L469.90,336.30 L470.90,336.30 L470.90,336.39 L471.90,336.39 L471.90,337.76 L472.90,337.76 L472.90,338.22 L473.90,338.22 L473.90,339.91 L474.90,339.91 L474.90,341.20 L475.90,341.20 L475.90,341.25 L476.90,341.25 L476.90,341.51 L477.90,341.51 L477.90,342.11 L478.90,342.11 L478.90,342.00 L479.90,342.00 L479.90,342.68 L480.90,342.68 L480.90,343.08 L481.90,343.08 L481.90,343.05 L482.90,343.05 L482.90,343.70 L483.90,343.70 L483.90,343.71 L484.90,343.71 L484.90,343.78 L485.90,343.78 L485.90,343.86 L486.90,343.86 L486.90,344.21 L487.90,344.21 L487.90,344.38 L488.90,344.38 L488.90,344.50 Z" fill="#FF7563"/>
<path d="M410.00,344.50 L410.00,343.81 L410.99,343.81 L410.99,341.99 L411.98,341.99 L411.98,339.81 L412.97,339.81 L412.97,339.19 L413.96,339.19 L413.96,334.28 L414.95,334.28 L414.95,331.15 L415.94,331.15 L415.94,325.64 L416.94,325.64 L416.94,320.46 L417.93,320.46 L417.93,314.40 L418.92,314.40 L418.92,311.99 L419.91,311.99 L419.91,308.30 L420.90,308.30 L420.90,297.93 L421.89,297.93 L421.89,288.78 L422.88,288.78 L422.88,282.65 L423.87,282.65 L423.87,273.30 L424.86,273.30 L424.86,269.54 L425.85,269.54 L425.85,264.02 L426.84,264.02 L426.84,252.52 L427.83,252.52 L427.83,250.55 L428.82,250.55 L428.82,244.96 L429.81,244.96 L429.81,246.69 L430.81,246.69 L430.81,240.96 L431.80,240.96 L431.80,243.13 L432.79,243.13 L432.79,230.99 L433.78,230.99 L433.78,230.97 L434.77,230.97 L434.77,220.08 L435.76,220.08 L435.76,217.00 L436.75,217.00 L436.75,226.98 L437.74,226.98 L437.74,234.07 L438.73,234.07 L438.73,241.00 L439.72,241.00 L439.72,247.66 L440.71,247.66 L440.71,251.75 L441.70,251.75 L441.70,254.63 L442.69,254.63 L442.69,261.27 L443.69,261.27 L443.69,264.65 L444.68,264.65 L444.68,267.95 L445.67,267.95 L445.67,273.77 L446.66,273.77 L446.66,293.60 L447.65,293.60 L447.65,300.19 L448.64,300.19 L448.64,304.54 L449.63,304.54 L449.63,310.50 L450.62,310.50 L450.62,316.50 L451.61,316.50 L451.61,318.72 L452.60,318.72 L452.60,324.02 L453.59,324.02 L453.59,328.56 L454.58,328.56 L454.58,330.33 L455.57,330.33 L455.57,333.54 L456.56,333.54 L456.56,336.98 L457.56,336.98 L457.56,337.59 L458.55,337.59 L458.55,339.61 L459.54,339.61 L459.54,340.75 L460.53,340.75 L460.53,342.24 L461.52,342.24 L461.52,343.21 L462.51,343.21 L462.51,344.27 L463.50,344.27 L463.50,344.50 Z" fill="rgba(110,169,197,0.8)"/>
<rect x="436.80" y="220.30" width="49.8" height="30.2" rx="1.5" fill="rgba(255,255,255,0.8)" stroke="#dcdcdc" stroke-width="0.8"/>
<rect x="440.20" y="225.10" width="13.4" height="5.8" fill="#FF7563"/>
<rect x="440.20" y="239.00" width="13.4" height="5.8" fill="rgba(110,169,197,0.8)"/>
<text x="459.20" y="230.50" font-size="8.6" text-anchor="start" textLength="16.73" lengthAdjust="spacingAndGlyphs" stroke="#000" stroke-width="0.25">Day</text>
<text x="459.20" y="244.60" font-size="8.6" text-anchor="start" textLength="23.30" lengthAdjust="spacingAndGlyphs" stroke="#000" stroke-width="0.25">Night</text>
<path d="M380.1,344.5 L380.1,215.5 L491.1,215.5 L491.1,344.5" fill="none" stroke="#8a8a8a" stroke-width="1"/>
<path d="M380.1,344.5 L491.1,344.5" fill="none" stroke="#c8c8c8" stroke-width="1"/>
<path d="M380.10,344.5 L380.10,346.5" stroke="#555" stroke-width="0.8"/>
<text x="380.10" y="352.80" font-size="8.2" text-anchor="middle" textLength="13.00" lengthAdjust="spacingAndGlyphs" stroke="#000" stroke-width="0.25">160</text>
<path d="M417.10,344.5 L417.10,346.5" stroke="#555" stroke-width="0.8"/>
<text x="417.10" y="352.80" font-size="8.2" text-anchor="middle" textLength="13.00" lengthAdjust="spacingAndGlyphs" stroke="#000" stroke-width="0.25">200</text>
<path d="M454.10,344.5 L454.10,346.5" stroke="#555" stroke-width="0.8"/>
<text x="454.10" y="352.80" font-size="8.2" text-anchor="middle" textLength="13.00" lengthAdjust="spacingAndGlyphs" stroke="#000" stroke-width="0.25">240</text>
<path d="M491.10,344.5 L491.10,346.5" stroke="#555" stroke-width="0.8"/>
<text x="491.10" y="352.80" font-size="8.2" text-anchor="middle" textLength="13.00" lengthAdjust="spacingAndGlyphs" stroke="#000" stroke-width="0.25">280</text>
<path d="M378.1,344.50 L380.1,344.50" stroke="#555" stroke-width="0.8"/>
<text x="377.30" y="347.50" font-size="8.2" text-anchor="end" textLength="15.70" lengthAdjust="spacingAndGlyphs" stroke="#000" stroke-width="0.25">0.00</text>
<path d="M378.1,313.79 L380.1,313.79" stroke="#555" stroke-width="0.8"/>
<text x="377.30" y="316.79" font-size="8.2" text-anchor="end" textLength="15.70" lengthAdjust="spacingAndGlyphs" stroke="#000" stroke-width="0.25">0.01</text>
<path d="M378.1,283.07 L380.1,283.07" stroke="#555" stroke-width="0.8"/>
<text x="377.30" y="286.07" font-size="8.2" text-anchor="end" textLength="15.70" lengthAdjust="spacingAndGlyphs" stroke="#000" stroke-width="0.25">0.02</text>
<path d="M378.1,252.36 L380.1,252.36" stroke="#555" stroke-width="0.8"/>
<text x="377.30" y="255.36" font-size="8.2" text-anchor="end" textLength="15.70" lengthAdjust="spacingAndGlyphs" stroke="#000" stroke-width="0.25">0.03</text>
<path d="M378.1,221.64 L380.1,221.64" stroke="#555" stroke-width="0.8"/>
<text x="377.30" y="224.64" font-size="8.2" text-anchor="end" textLength="15.70" lengthAdjust="spacingAndGlyphs" stroke="#000" stroke-width="0.25">0.04</text>
<text x="435.60" y="362.60" font-size="8.4" text-anchor="middle" textLength="102.00" lengthAdjust="spacingAndGlyphs" stroke="#000" stroke-width="0.25">Brightness Temperature (K)</text>
<text x="0.00" y="0.00" font-size="8.4" text-anchor="middle" textLength="39.50" lengthAdjust="spacingAndGlyphs" stroke="#000" stroke-width="0.25" transform="translate(358.70,280.00) rotate(-90)">Frequency</text>
<text x="435.60" y="212.50" font-size="9.2" text-anchor="middle" textLength="40.78" lengthAdjust="spacingAndGlyphs" stroke="#000" stroke-width="0.25">(g) 12μm</text>
<path d="M566.50,344.50 L566.50,344.18 L567.50,344.18 L567.50,343.81 L568.51,343.81 L568.51,343.41 L569.51,343.41 L569.51,342.80 L570.51,342.80 L570.51,342.41 L571.52,342.41 L571.52,341.76 L572.52,341.76 L572.52,341.64 L573.53,341.64 L573.53,340.96 L574.53,340.96 L574.53,341.05 L575.53,341.05 L575.53,339.56 L576.54,339.56 L576.54,338.26 L577.54,338.26 L577.54,337.11 L578.54,337.11 L578.54,336.85 L579.55,336.85 L579.55,335.44 L580.55,335.44 L580.55,333.06 L581.55,333.06 L581.55,333.07 L582.56,333.07 L582.56,331.32 L583.56,331.32 L583.56,329.60 L584.57,329.60 L584.57,329.49 L585.57,329.49 L585.57,326.85 L586.57,326.85 L586.57,326.78 L587.58,326.78 L587.58,320.50 L588.58,320.50 L588.58,314.21 L589.58,314.21 L589.58,311.28 L590.59,311.28 L590.59,307.28 L591.59,307.28 L591.59,301.49 L592.59,301.49 L592.59,300.54 L593.60,300.54 L593.60,292.53 L594.60,292.53 L594.60,287.81 L595.60,287.81 L595.60,287.56 L596.61,287.56 L596.61,281.80 L597.61,281.80 L597.61,278.21 L598.62,278.21 L598.62,274.66 L599.62,274.66 L599.62,269.91 L600.62,269.91 L600.62,270.79 L601.63,270.79 L601.63,257.75 L602.63,257.75 L602.63,260.00 L603.63,260.00 L603.63,258.06 L604.64,258.06 L604.64,257.45 L605.64,257.45 L605.64,256.81 L606.64,256.81 L606.64,254.77 L607.65,254.77 L607.65,256.68 L608.65,256.68 L608.65,258.03 L609.66,258.03 L609.66,256.80 L610.66,256.80 L610.66,255.43 L611.66,255.43 L611.66,260.02 L612.67,260.02 L612.67,261.37 L613.67,261.37 L613.67,263.10 L614.67,263.10 L614.67,270.17 L615.68,270.17 L615.68,278.19 L616.68,278.19 L616.68,277.15 L617.68,277.15 L617.68,282.79 L618.69,282.79 L618.69,294.13 L619.69,294.13 L619.69,296.11 L620.70,296.11 L620.70,300.26 L621.70,300.26 L621.70,303.59 L622.70,303.59 L622.70,307.23 L623.71,307.23 L623.71,311.57 L624.71,311.57 L624.71,315.75 L625.71,315.75 L625.71,317.87 L626.72,317.87 L626.72,320.37 L627.72,320.37 L627.72,325.68 L628.72,325.68 L628.72,328.89 L629.73,328.89 L629.73,331.10 L630.73,331.10 L630.73,334.75 L631.73,334.75 L631.73,335.99 L632.74,335.99 L632.74,337.42 L633.74,337.42 L633.74,337.70 L634.75,337.70 L634.75,339.02 L635.75,339.02 L635.75,339.82 L636.75,339.82 L636.75,340.07 L637.76,340.07 L637.76,340.40 L638.76,340.40 L638.76,341.12 L639.76,341.12 L639.76,341.34 L640.77,341.34 L640.77,341.44 L641.77,341.44 L641.77,341.52 L642.77,341.52 L642.77,341.58 L643.78,341.58 L643.78,342.54 L644.78,342.54 L644.78,342.63 L645.79,342.63 L645.79,343.40 L646.79,343.40 L646.79,342.82 L647.79,342.82 L647.79,343.87 L648.80,343.87 L648.80,344.25 L649.80,344.25 L649.80,344.50 Z" fill="#FF7563"/>
<path d="M578.00,344.50 L578.00,343.98 L579.00,343.98 L579.00,343.47 L579.99,343.47 L579.99,342.12 L580.99,342.12 L580.99,341.37 L581.98,341.37 L581.98,341.20 L582.98,341.20 L582.98,338.26 L583.98,338.26 L583.98,334.35 L584.97,334.35 L584.97,333.09 L585.97,333.09 L585.97,327.89 L586.97,327.89 L586.97,325.23 L587.96,325.23 L587.96,320.72 L588.96,320.72 L588.96,314.02 L589.95,314.02 L589.95,309.84 L590.95,309.84 L590.95,308.45 L591.95,308.45 L591.95,298.07 L592.94,298.07 L592.94,287.69 L593.94,287.69 L593.94,276.14 L594.94,276.14 L594.94,274.46 L595.93,274.46 L595.93,267.41 L596.93,267.41 L596.93,256.17 L597.92,256.17 L597.92,249.29 L598.92,249.29 L598.92,241.44 L599.92,241.44 L599.92,238.13 L600.91,238.13 L600.91,228.68 L601.91,228.68 L601.91,223.06 L602.91,223.06 L602.91,223.52 L603.90,223.52 L603.90,220.62 L604.90,220.62 L604.90,226.10 L605.89,226.10 L605.89,232.97 L606.89,232.97 L606.89,235.73 L607.89,235.73 L607.89,245.11 L608.88,245.11 L608.88,252.33 L609.88,252.33 L609.88,256.10 L610.88,256.10 L610.88,264.26 L611.87,264.26 L611.87,270.82 L612.87,270.82 L612.87,275.98 L613.86,275.98 L613.86,281.13 L614.86,281.13 L614.86,287.25 L615.86,287.25 L615.86,294.22 L616.85,294.22 L616.85,301.18 L617.85,301.18 L617.85,303.90 L618.85,303.90 L618.85,309.20 L619.84,309.20 L619.84,315.52 L620.84,315.52 L620.84,318.69 L621.83,318.69 L621.83,324.55 L622.83,324.55 L622.83,329.28 L623.83,329.28 L623.83,332.70 L624.82,332.70 L624.82,336.57 L625.82,336.57 L625.82,339.45 L626.82,339.45 L626.82,340.62 L627.81,340.62 L627.81,342.55 L628.81,342.55 L628.81,342.64 L629.80,342.64 L629.80,344.12 L630.80,344.12 L630.80,344.50 Z" fill="rgba(110,169,197,0.8)"/>
<rect x="607.10" y="220.30" width="49.8" height="30.2" rx="1.5" fill="rgba(255,255,255,0.8)" stroke="#dcdcdc" stroke-width="0.8"/>
<rect x="610.50" y="225.10" width="13.4" height="5.8" fill="#FF7563"/>
<rect x="610.50" y="239.00" width="13.4" height="5.8" fill="rgba(110,169,197,0.8)"/>
<text x="629.50" y="230.50" font-size="8.6" text-anchor="start" textLength="16.73" lengthAdjust="spacingAndGlyphs" stroke="#000" stroke-width="0.25">Day</text>
<text x="629.50" y="244.60" font-size="8.6" text-anchor="start" textLength="23.30" lengthAdjust="spacingAndGlyphs" stroke="#000" stroke-width="0.25">Night</text>
<path d="M550.4,344.5 L550.4,215.5 L661.4,215.5 L661.4,344.5" fill="none" stroke="#8a8a8a" stroke-width="1"/>
<path d="M550.4,344.5 L661.4,344.5" fill="none" stroke="#c8c8c8" stroke-width="1"/>
<path d="M550.40,344.5 L550.40,346.5" stroke="#555" stroke-width="0.8"/>
<text x="550.40" y="352.80" font-size="8.2" text-anchor="middle" textLength="13.00" lengthAdjust="spacingAndGlyphs" stroke="#000" stroke-width="0.25">160</text>
<path d="M587.40,344.5 L587.40,346.5" stroke="#555" stroke-width="0.8"/>
<text x="587.40" y="352.80" font-size="8.2" text-anchor="middle" textLength="13.00" lengthAdjust="spacingAndGlyphs" stroke="#000" stroke-width="0.25">200</text>
<path d="M624.40,344.5 L624.40,346.5" stroke="#555" stroke-width="0.8"/>
<text x="624.40" y="352.80" font-size="8.2" text-anchor="middle" textLength="13.00" lengthAdjust="spacingAndGlyphs" stroke="#000" stroke-width="0.25">240</text>
<path d="M661.40,344.5 L661.40,346.5" stroke="#555" stroke-width="0.8"/>
<text x="661.40" y="352.80" font-size="8.2" text-anchor="middle" textLength="13.00" lengthAdjust="spacingAndGlyphs" stroke="#000" stroke-width="0.25">280</text>
<path d="M548.4,344.50 L550.4,344.50" stroke="#555" stroke-width="0.8"/>
<text x="547.60" y="347.50" font-size="8.2" text-anchor="end" textLength="15.70" lengthAdjust="spacingAndGlyphs" stroke="#000" stroke-width="0.25">0.00</text>
<path d="M548.4,316.46 L550.4,316.46" stroke="#555" stroke-width="0.8"/>
<text x="547.60" y="319.46" font-size="8.2" text-anchor="end" textLength="15.70" lengthAdjust="spacingAndGlyphs" stroke="#000" stroke-width="0.25">0.01</text>
<path d="M548.4,288.41 L550.4,288.41" stroke="#555" stroke-width="0.8"/>
<text x="547.60" y="291.41" font-size="8.2" text-anchor="end" textLength="15.70" lengthAdjust="spacingAndGlyphs" stroke="#000" stroke-width="0.25">0.02</text>
<path d="M548.4,260.37 L550.4,260.37" stroke="#555" stroke-width="0.8"/>
<text x="547.60" y="263.37" font-size="8.2" text-anchor="end" textLength="15.70" lengthAdjust="spacingAndGlyphs" stroke="#000" stroke-width="0.25">0.03</text>
<path d="M548.4,232.33 L550.4,232.33" stroke="#555" stroke-width="0.8"/>
<text x="547.60" y="235.33" font-size="8.2" text-anchor="end" textLength="15.70" lengthAdjust="spacingAndGlyphs" stroke="#000" stroke-width="0.25">0.04</text>
<text x="605.90" y="362.60" font-size="8.4" text-anchor="middle" textLength="102.00" lengthAdjust="spacingAndGlyphs" stroke="#000" stroke-width="0.25">Brightness Temperature (K)</text>
<text x="0.00" y="0.00" font-size="8.4" text-anchor="middle" textLength="39.50" lengthAdjust="spacingAndGlyphs" stroke="#000" stroke-width="0.25" transform="translate(529.00,280.00) rotate(-90)">Frequency</text>
<text x="605.90" y="212.50" font-size="9.2" text-anchor="middle" textLength="48.94" lengthAdjust="spacingAndGlyphs" stroke="#000" stroke-width="0.25">(h) 13.3μm</text>
</svg></body></html>
